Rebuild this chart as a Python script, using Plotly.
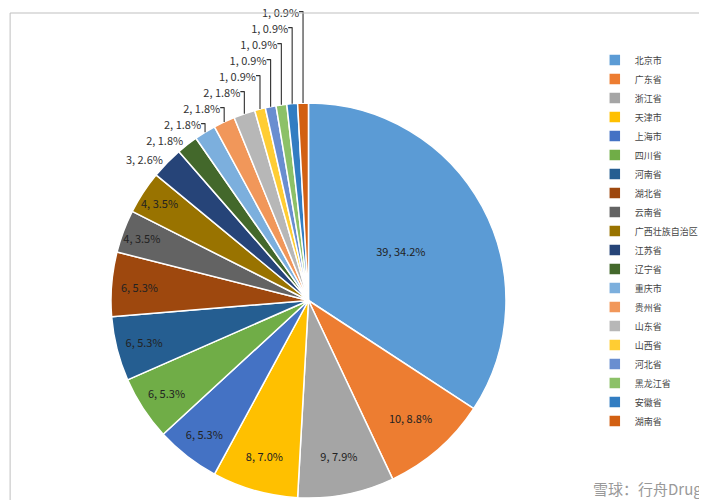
import plotly.graph_objects as go

provinces = ["北京市", "广东省", "浙江省", "天津市", "上海市", "四川省", "河南省", "湖北省",
             "云南省", "广西壮族自治区", "江苏省", "辽宁省", "重庆市", "贵州省", "山东省",
             "山西省", "河北省", "黑龙江省", "安徽省", "湖南省"]
counts = [39, 10, 9, 8, 6, 6, 6, 6, 4, 4, 3, 2, 2, 2, 2, 1, 1, 1, 1, 1]
colors = ["#5B9BD5", "#ED7D31", "#A5A5A5", "#FFC000", "#4472C4", "#70AD47", "#255E91",
          "#9E480E", "#636363", "#997300", "#264478", "#43682B", "#7CAFDD", "#F1975A",
          "#B7B7B7", "#FFCD33", "#698ED0", "#8CC168", "#327DC2", "#D26012"]

positions = ["inside" if c >= 4 else "outside" for c in counts]

fig = go.Figure(go.Pie(
    labels=provinces, values=counts, sort=False, direction="clockwise", rotation=0,
    marker=dict(colors=colors, line=dict(color="white", width=1.5)),
    texttemplate="%{value}, %{percent:.1%}", textposition=positions,
    insidetextorientation="horizontal",
    textfont=dict(size=12, color="#222"),
    outsidetextfont=dict(size=9, color="#333"),
    domain=dict(x=[0.14, 0.71], y=[0.02, 0.81]),
))

fig.update_layout(
    width=707, height=500,
    margin=dict(l=0, r=0, t=0, b=0, autoexpand=False),
    paper_bgcolor="white",
    font=dict(family="Noto Sans CJK SC", size=10, color="#444"),
    uniformtext=dict(minsize=11, mode="show"),
    legend=dict(x=0.83, y=0.925, xanchor="left", yanchor="top", font=dict(size=9),
                tracegroupgap=0),
    shapes=[dict(type="rect", xref="paper", yref="paper", x0=0.003, y0=0.003, x1=0.995, y1=0.99,
                 line=dict(color="#BFBFBF", width=1))],
    annotations=[dict(text="雪球：行舟Drug", x=0.985, y=0.015, xref="paper", yref="paper",
                      xanchor="right", yanchor="bottom", showarrow=False,
                      font=dict(size=15, color="#999"))],
)

fig.write_html("out.html")
